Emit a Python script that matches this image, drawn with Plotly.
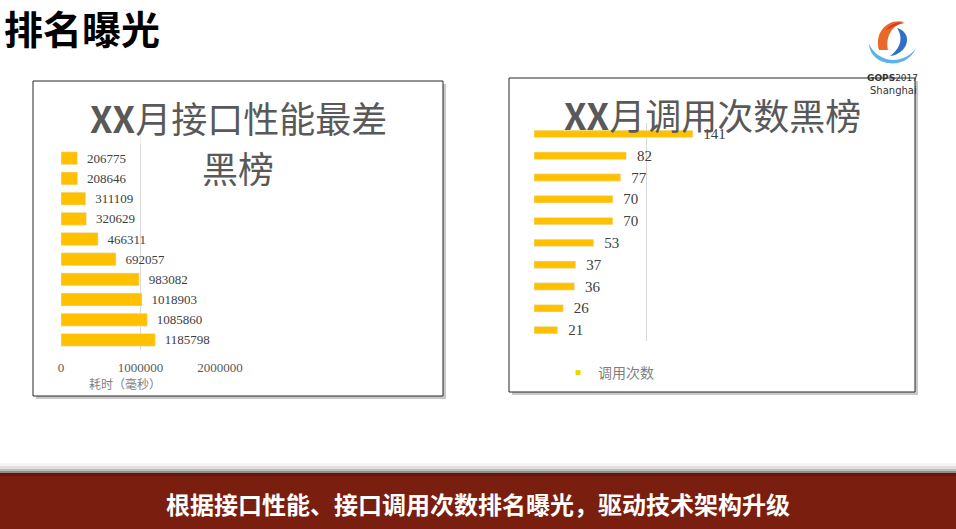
import plotly.graph_objects as go

## Data
# left chart: slowest interfaces, listed bottom -> top
slow_names = ["接口%d" % i for i in range(1, 11)]
slow_ms = [1185798, 1085860, 1018903, 983082, 692057, 466311, 320629, 311109, 208646, 206775]
slow_ticks = [0, 1000000, 2000000]

# right chart: call counts, listed bottom -> top
call_names = ["接口%d" % i for i in range(1, 11)]
call_counts = [21, 26, 36, 37, 53, 70, 70, 77, 82, 141]
call_grid = [100, 150]

W, H = 956, 529
BAR = "#FFC000"
GRID = "#D9D9D9"
CJK = "Noto Sans CJK SC"
SERIF = "Liberation Serif"


def fx(x):
    return x / W


def fy(y):
    return 1 - y / H


def path(pts):
    s = "M %f,%f" % (fx(pts[0][0]), fy(pts[0][1]))
    for i in range(1, len(pts) - 2, 3):
        a, b, c = pts[i], pts[i + 1], pts[i + 2]
        s += " C %f,%f %f,%f %f,%f" % (fx(a[0]), fy(a[1]), fx(b[0]), fy(b[1]), fx(c[0]), fy(c[1]))
    return s + " Z"


fig = go.Figure()

fig.add_trace(go.Bar(
    x=slow_ms, y=slow_names, orientation="h", marker_color=BAR, width=0.64,
    text=["\u2002" + str(v) for v in slow_ms], textposition="outside", constraintext="none",
    textfont=dict(family=SERIF, size=13, color="#404040"), cliponaxis=False,
    showlegend=False, xaxis="x", yaxis="y",
))
fig.add_trace(go.Bar(
    x=call_counts, y=call_names, orientation="h", marker_color=BAR, width=0.34,
    text=["\u2002" + str(v) for v in call_counts], textposition="outside", constraintext="none",
    textfont=dict(family=SERIF, size=15, color="#404040"), cliponaxis=False,
    name="调用次数", legendgroup="calls", showlegend=False, xaxis="x2", yaxis="y2",
))
# small legend key like the original
fig.add_trace(go.Scatter(
    x=[None], y=[None], mode="markers", marker=dict(symbol="square", size=5, color="#E6D800"),
    name="调用次数", legendgroup="calls", showlegend=True, xaxis="x2", yaxis="y2",
))

shapes = []
# chart frames with a soft shadow
for x0, y0, x1, y1 in [(33, 81, 443, 396), (509, 78, 915, 392)]:
    shapes.append(dict(type="rect", xref="paper", yref="paper", layer="below",
                       x0=fx(x0 + 3), y0=fy(y1 + 3), x1=fx(x1 + 3), y1=fy(y0 + 3),
                       fillcolor="#C8C8C8", line_width=0))
    shapes.append(dict(type="rect", xref="paper", yref="paper", layer="below",
                       x0=fx(x0), y0=fy(y1), x1=fx(x1), y1=fy(y0),
                       fillcolor="white", line=dict(color="#262626", width=1)))
# bottom banner
for y0, col in [(463, "#F4F4F4"), (466, "#E0E0E0"), (469, "#BDBDBD"), (471, "#9A8A86")]:
    shapes.append(dict(type="rect", xref="paper", yref="paper", layer="below",
                       x0=0, x1=1, y0=fy(473), y1=fy(y0), fillcolor=col, line_width=0))
shapes.append(dict(type="rect", xref="paper", yref="paper", layer="below",
                   x0=0, x1=1, y0=0, y1=fy(473), fillcolor="#7A1F10", line_width=0))
shapes.append(dict(type="rect", xref="paper", yref="paper", layer="below",
                   x0=0, x1=1, y0=fy(476), y1=fy(473), fillcolor="#62180D", line_width=0))
# logo
shapes.append(dict(type="path", xref="paper", yref="paper", fillcolor="#E8692A", line_width=0,
                   path=path([(879, 50), (874, 32), (888, 18), (904, 22), (893, 25), (885, 36), (888, 50)])))
shapes.append(dict(type="path", xref="paper", yref="paper", fillcolor="#D93A2B", line_width=0,
                   path=path([(886, 30), (890, 24), (898, 21), (905, 23), (897, 24), (891, 28), (886, 30)])))
shapes.append(dict(type="path", xref="paper", yref="paper", fillcolor="#2F6FC4", line_width=0,
                   path=path([(897, 28), (914, 33), (908, 54), (890, 56), (900, 49), (904, 38), (897, 28)])))
shapes.append(dict(type="path", xref="paper", yref="paper", fillcolor="#5BB3E8", line_width=0,
                   path=path([(869, 44), (870, 66), (906, 72), (916, 48), (906, 63), (880, 66), (869, 44)])))

annotations = [
    dict(text="<b>排名曝光</b>", x=fx(2), y=fy(27), xanchor="left", yanchor="middle",
         font=dict(family=CJK, size=39, color="#000000")),
    dict(text="<b>根据接口性能、接口调用次数排名曝光，驱动技术架构升级</b>", x=fx(478), y=fy(503),
         xanchor="center", yanchor="middle", font=dict(family=CJK, size=24, color="#FFFFFF")),
    dict(text="<b>XX</b>月接口性能最差", x=fx(238), y=fy(117), xanchor="center", yanchor="middle",
         font=dict(family=CJK, size=36, color="#595959"), bgcolor="rgba(255,255,255,0.6)"),
    dict(text="黑榜", x=fx(238), y=fy(167), xanchor="center", yanchor="middle",
         font=dict(family=CJK, size=36, color="#595959"), bgcolor="white"),
    dict(text="<b>XX</b>月调用次数黑榜", x=fx(712), y=fy(114), xanchor="center", yanchor="middle",
         font=dict(family=CJK, size=36, color="#595959")),
    dict(text="耗时（毫秒）", x=fx(125), y=fy(383), xanchor="center", yanchor="middle",
         font=dict(family=CJK, size=12, color="#7F7F7F")),
    dict(text="<b>GOPS</b>2017", x=fx(892), y=fy(78), xanchor="center", yanchor="middle",
         font=dict(family="DejaVu Sans", size=9, color="#333333")),
    dict(text="Shanghai", x=fx(893), y=fy(91), xanchor="center", yanchor="middle",
         font=dict(family="DejaVu Sans", size=10, color="#333333")),
]
for a in annotations:
    a.update(xref="paper", yref="paper", showarrow=False)

fig.update_layout(
    width=W, height=H, margin=dict(l=0, r=0, t=0, b=0, autoexpand=False),
    paper_bgcolor="white", plot_bgcolor="rgba(0,0,0,0)",
    bargap=0.35, shapes=shapes, annotations=annotations,
    xaxis=dict(domain=[fx(61), fx(220)], range=[0, 2000000], tickvals=slow_ticks,
               ticktext=[str(v) for v in slow_ticks], showgrid=True, gridcolor=GRID,
               zeroline=False, showline=False, ticks="", ticklabelstandoff=8, automargin=False,
               tickfont=dict(family=SERIF, size=13, color="#595959"), anchor="y"),
    yaxis=dict(domain=[fy(350), fy(128)], type="category", categoryarray=slow_names,
               range=[-0.5, 10.5], showticklabels=False, showgrid=False, zeroline=False,
               showline=False, anchor="x", automargin=False),
    xaxis2=dict(domain=[fx(534), fx(703)], range=[0, 150], tickvals=call_grid,
                showticklabels=False, showgrid=True, gridcolor=GRID, zeroline=False,
                showline=False, ticks="", anchor="y2", automargin=False),
    yaxis2=dict(domain=[fy(341), fy(123)], type="category", categoryarray=call_names,
                range=[-0.5, 9.5], showticklabels=False, showgrid=False, zeroline=False,
                showline=False, anchor="x2", automargin=False),
    legend=dict(x=fx(558), y=fy(373), xanchor="left", yanchor="middle", bgcolor="rgba(0,0,0,0)",
                font=dict(family=CJK, size=14, color="#7F7F7F"), itemwidth=30, itemsizing="trace"),
)

fig.write_html(
    "out.html", config=dict(displayModeBar=False),
    post_script="document.body.style.margin='0';",
)
